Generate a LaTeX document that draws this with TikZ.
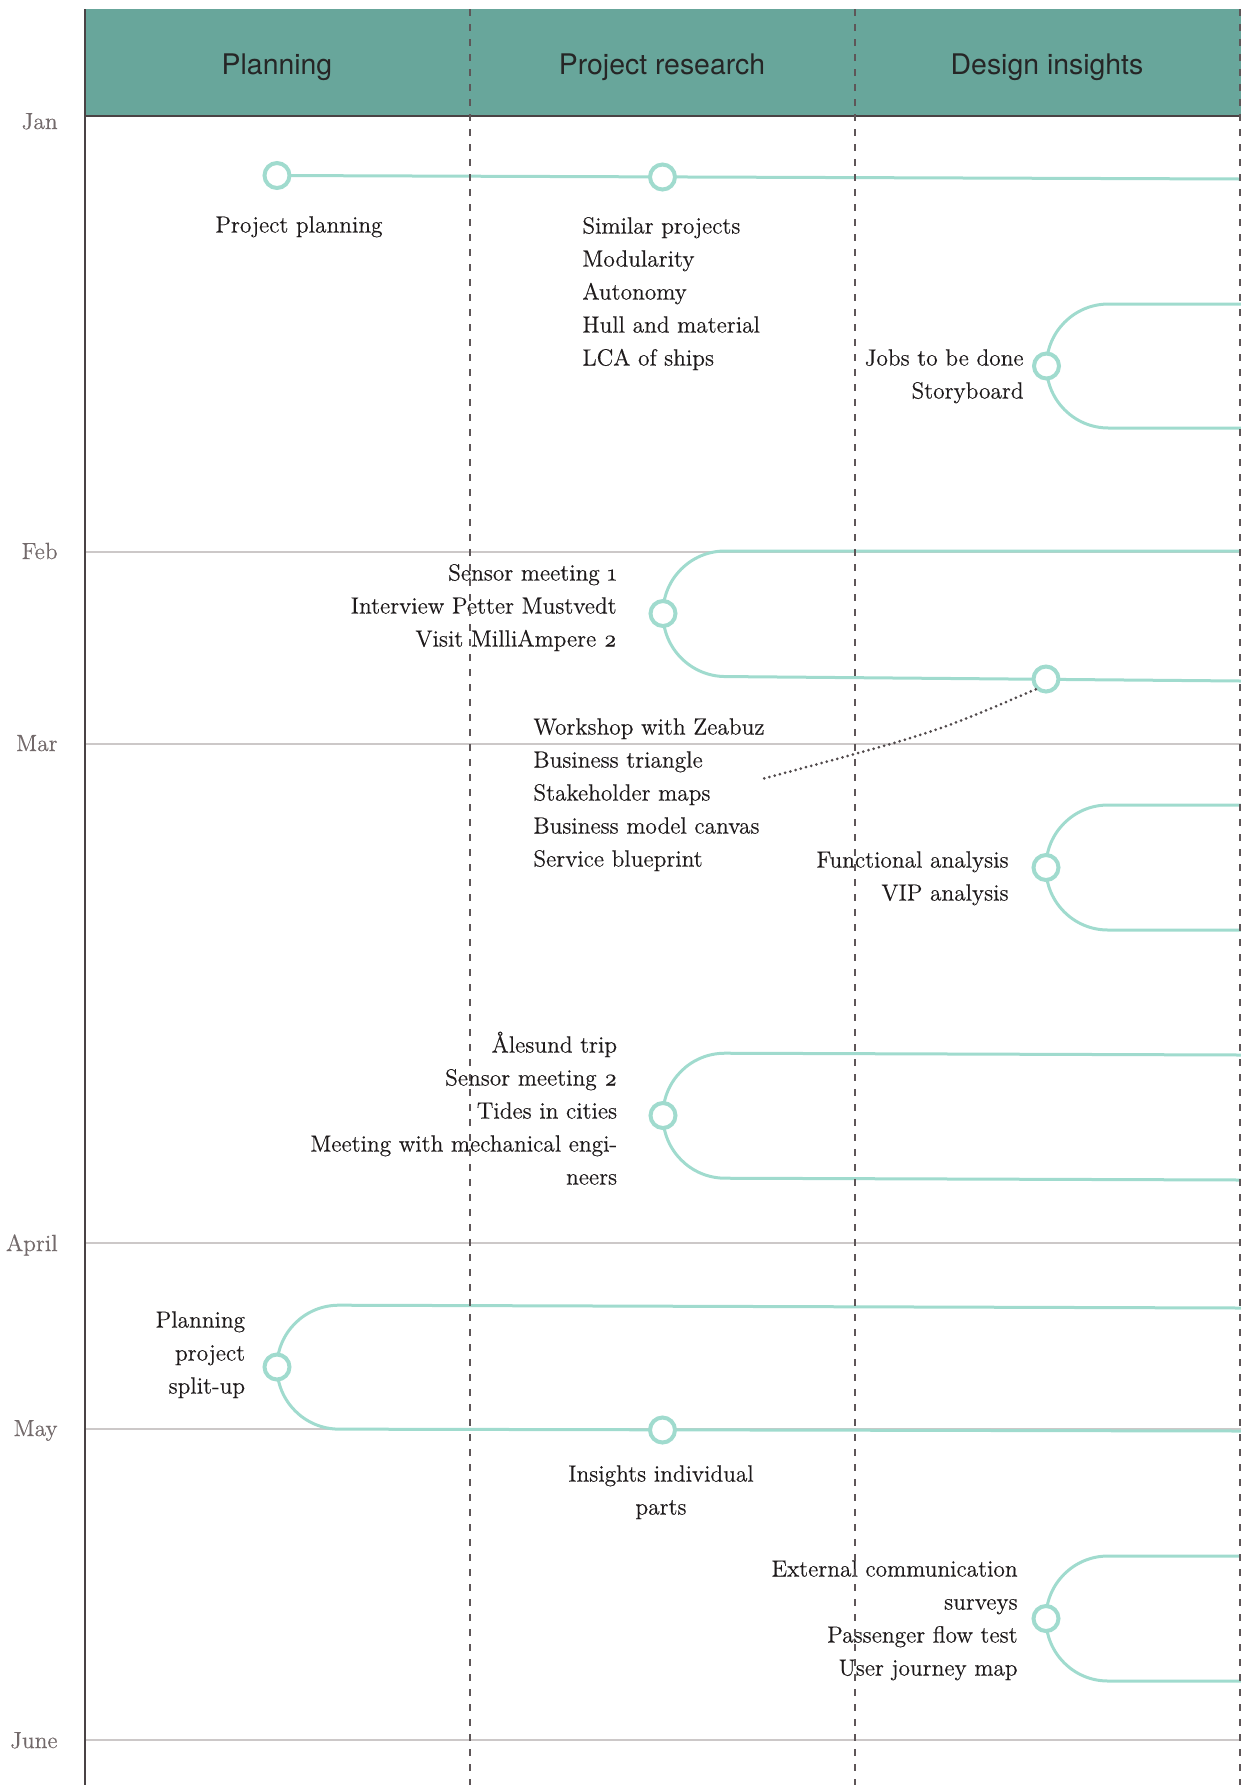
\documentclass[tikz,border=0pt]{standalone}
\usepackage{fontspec}
\setmainfont{Latin Modern Roman}[UprightFeatures={FakeBold=0.35}]
\newfontfamily\headfont{TeX Gyre Heros}
\usepackage{tikz}
\usetikzlibrary{positioning,backgrounds}
\definecolor{ink}      {HTML}{1E1A1B}
\definecolor{monthc}   {HTML}{736A6B}
\definecolor{headc}    {HTML}{68A69B}
\definecolor{headtext} {HTML}{262626}
\definecolor{trackc}   {HTML}{A0DBCE}
\definecolor{gridc}    {HTML}{CCC8C8}
\definecolor{lanec}    {HTML}{5E5658}
\definecolor{axisc}    {HTML}{4A4345}
\tikzset{
  every node/.style={font=\fontsize{11.7}{16.5}\selectfont, text=ink},
  % --- nodes
  stopdot/.style = {circle, draw=trackc, line width=2pt, fill=white,
                    minimum size=12.5pt, inner sep=0pt},
  lbl/.style     = {inner sep=0pt, align=left},
  lblr/.style    = {inner sep=0pt, align=right},
  month/.style   = {inner sep=0pt, anchor=base east, text=monthc},
  head/.style    = {font=\headfont\fontsize{14.2}{17}\selectfont, text=headtext,
                    anchor=base},
  % --- edges
  trackline/.style = {draw=trackc, line width=1.5pt, rounded corners=31pt},
  monthline/.style = {draw=gridc, line width=1.1pt},
  axis/.style      = {draw=axisc, line width=1.1pt},
  lane/.style      = {draw=lanec, line width=1.1pt, dash pattern=on 3.5pt off 4pt},
  hint/.style      = {draw=lanec!85!black, line width=1.5pt, line cap=round,
                      dash pattern=on 0pt off 2.7pt},
}
\begin{document}
\begin{tikzpicture}[x=0.5pt,y=-0.5pt]
  \useasboundingbox (0,0) rectangle (1241,1785);
  % month lines
  \begin{scope}[on background layer]
    \foreach \y in {552,744,1243,1429,1740}
      \draw[monthline] (85,\y) -- (1241,\y);
  \end{scope}
  % header
  \fill[headc] (85,9) rectangle (1241,116);
  \draw[axis] (85,116) -- (1241,116);
  \draw[axis] (85,9) -- (85,1785);
  \foreach \x/\t [count=\i] in {277/Planning, 662/Project research, 1047/Design insights}
    \node[head] (h\i) at (\x,74) {\t};
  \foreach \y/\m [count=\i] in {129/Jan,559/Feb,751/Mar,1251/April,1436/May,1748/June}
    \node[month] (m\i) at (58,\y) {\m};

  % stops
  \node[stopdot] (pp) at (277,175.5) {};
  \node[stopdot] (sp) at (662.5,177) {};
  \node[stopdot] (jb) at (1046.5,366) {};
  \node[stopdot] (sm) at (663,613.5) {};
  \node[stopdot] (ws) at (1046,679) {};
  \node[stopdot] (fa) at (1046,867.5) {};
  \node[stopdot] (al) at (663,1115.5) {};
  \node[stopdot] (ps) at (277,1367) {};
  \node[stopdot] (ii) at (662.5,1430) {};
  \node[stopdot] (ec) at (1046,1618.5) {};

  % labels
  \node[lbl, anchor=north] (pp-t) at (299,209) {\strut Project planning};
  \node[lbl, anchor=north west] (sp-t) at (582,210)
    {\strut Similar projects\\Modularity\\Autonomy\\Hull and material\\LCA of ships};
  \node[lblr, anchor=north east] (jb-t) at (1024,342)
    {\strut Jobs to be done\\Storyboard};
  \node[lblr, anchor=north east] (sm-t) at (617,557)
    {\strut Sensor meeting \oldstylenums{1}\\Interview Petter Mustvedt\\Visit MilliAmpere \oldstylenums{2}};
  \node[lbl, anchor=north west] (ws-t) at (533,711)
    {\strut Workshop with Zeabuz\\Business triangle\\Stakeholder maps\\Business model canvas\\Service blueprint};
  \node[lblr, anchor=north east] (fa-t) at (1009,844)
    {\strut Functional analysis\\VIP analysis};
  \node[lblr, anchor=north east] (al-t) at (617.5,1029)
    {\strut Ålesund trip\\Sensor meeting \oldstylenums{2}\\Tides in cities\\Meeting with mechanical engi-\\neers};
  \node[lblr, anchor=north east] (ps-t) at (245.5,1304)
    {\strut Planning\\project\\split-up};
  \node[lbl, align=center, anchor=north] (ii-t) at (661,1458)
    {\strut Insights individual\\parts};
  \node[lblr, anchor=north east] (ec-t) at (1018,1553)
    {\strut External communication\\surveys\\Passenger flow test\\User journey map};

  % track ends at the right border
  \coordinate (e1)  at (1241,179);
  \coordinate (e2a) at (1241,304);  \coordinate (e2b) at (1241,428);
  \coordinate (e3a) at (1241,551);  \coordinate (e3b) at (1241,681);
  \coordinate (e4a) at (1241,805);  \coordinate (e4b) at (1241,930);
  \coordinate (e5a) at (1241,1055); \coordinate (e5b) at (1241,1180);
  \coordinate (e6a) at (1241,1308); \coordinate (e6b) at (1241,1431);
  \coordinate (e7a) at (1241,1556); \coordinate (e7b) at (1241,1681);

  \begin{scope}[on background layer]
    \draw[trackline] (pp.center) -- (e1);
    \draw[trackline] (e2a) -- (jb |- e2a) -- (jb |- e2b) -- (e2b);
    \draw[trackline] (e3a) -- (sm |- e3a) -- (663,676) -- (e3b);
    \draw[trackline] (e4a) -- (fa |- e4a) -- (fa |- e4b) -- (e4b);
    \draw[trackline] (e5a) -- (663,1053) -- (663,1178) -- (e5b);
    \draw[trackline] (e6a) -- (277,1305) -- (277,1429) -- (e6b);
    \draw[trackline] (e7a) -- (ec |- e7a) -- (ec |- e7b) -- (e7b);
  \end{scope}

  % workshop pointer
  \coordinate (ws-end) at (762,779);
  \draw[hint] (ws.south west) .. controls (934,733) .. (ws-end);

  % lanes
  \foreach \x in {470,855,1240}
    \draw[lane] (\x,9) -- (\x,1785);
\end{tikzpicture}
\end{document}
